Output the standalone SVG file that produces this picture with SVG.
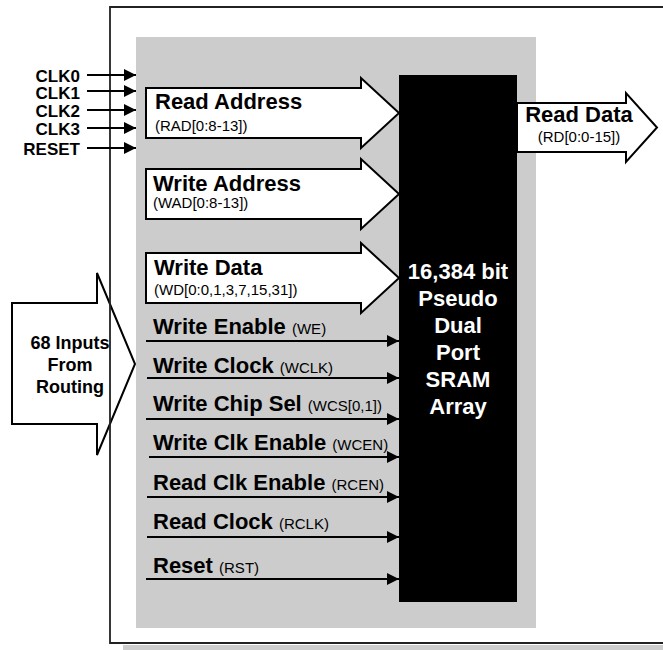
<svg xmlns="http://www.w3.org/2000/svg" width="663" height="650" viewBox="0 0 663 650">
<style>
.b{font-family:"Liberation Sans",Arial,sans-serif;font-weight:bold;font-size:22px;fill:#000}
.s{font-family:"Liberation Sans",Arial,sans-serif;font-weight:normal;font-size:15px;fill:#000}
.clk{font-family:"Liberation Sans",Arial,sans-serif;font-weight:bold;font-size:17px;fill:#000;text-anchor:end}
.w{font-family:"Liberation Sans",Arial,sans-serif;font-weight:bold;font-size:22px;fill:#fff;text-anchor:middle}
.arr{fill:#fff;stroke:#000;stroke-width:2;stroke-linejoin:miter}
.ln{stroke:#000;stroke-width:2;fill:none}
</style>
<defs>
<marker id="ah" markerUnits="userSpaceOnUse" markerWidth="13" markerHeight="13" refX="12" refY="6.5" orient="auto" viewBox="0 0 13 13">
<path d="M0,0.5 L12,6.5 L0,12.5 z" fill="#000"/>
</marker>
</defs>
<rect width="663" height="650" fill="#fff"/>
<rect x="123" y="645" width="540" height="5" fill="#ccc"/>
<rect id="panel" x="136" y="37" width="400" height="591" fill="#ccc"/>
<g id="inputs-from-routing">
<polygon class="arr" points="12,303 97,303 97,273 135,364 97,455 97,424 12,424"/>
<text class="b" style="font-size:18px" text-anchor="middle" x="70" y="349">68 Inputs</text>
<text class="b" style="font-size:18px" text-anchor="middle" x="70" y="371">From</text>
<text class="b" style="font-size:18px" text-anchor="middle" x="70" y="393">Routing</text>
</g>
<g id="frame">
<path d="M663,7 H110 V643 H663" fill="none" stroke="#222" stroke-width="1.8"/>
</g>
<g id="sram">
<rect x="399" y="75" width="118" height="527" fill="#000"/>
<text class="w" x="458" y="279">16,384 bit</text>
<text class="w" x="458" y="306">Pseudo</text>
<text class="w" x="458" y="333">Dual</text>
<text class="w" x="458" y="360">Port</text>
<text class="w" x="458" y="387">SRAM</text>
<text class="w" x="458" y="414">Array</text>
</g>
<g id="read-address">
<polygon class="arr" points="146,88 361,88 361,78 399,113 361,148 361,138 146,138"/>
<text class="b" x="155" y="109">Read Address</text>
<text class="s" x="155" y="131">(RAD[0:8-13])</text>
</g>
<g id="write-address">
<polygon class="arr" points="146,169 361,169 361,159 399,194 361,229 361,219 146,219"/>
<text class="b" x="153" y="191">Write Address</text>
<text class="s" x="153" y="208">(WAD[0:8-13])</text>
</g>
<g id="write-data">
<polygon class="arr" points="146,253 361,253 361,243 399,278 361,313 361,303 146,303"/>
<text class="b" x="154" y="275">Write Data</text>
<text class="s" x="154" y="295">(WD[0:0,1,3,7,15,31])</text>
</g>
<g id="read-data">
<polygon class="arr" points="517,103 626,103 626,93 657,127.5 626,162 626,152 517,152"/>
<text class="b" text-anchor="middle" x="579" y="122">Read Data</text>
<text class="s" text-anchor="middle" x="579" y="142">(RD[0:0-15])</text>
</g>
<g id="clock-labels">
<text class="clk" x="80" y="82">CLK0</text>
<text class="clk" x="80" y="99">CLK1</text>
<text class="clk" x="80" y="117">CLK2</text>
<text class="clk" x="80" y="135">CLK3</text>
<text class="clk" x="80" y="155">RESET</text>
</g>
<g id="signal-labels">
<text class="b" x="153" y="334">Write Enable <tspan class="s">(WE)</tspan></text>
<text class="b" x="153" y="373">Write Clock <tspan class="s">(WCLK)</tspan></text>
<text class="b" x="153" y="411">Write Chip Sel <tspan class="s">(WCS[0,1])</tspan></text>
<text class="b" x="153" y="450">Write Clk Enable <tspan class="s">(WCEN)</tspan></text>
<text class="b" x="153" y="490">Read Clk Enable <tspan class="s">(RCEN)</tspan></text>
<text class="b" x="153" y="529">Read Clock <tspan class="s">(RCLK)</tspan></text>
<text class="b" x="153" y="573">Reset <tspan class="s">(RST)</tspan></text>
</g>
<g id="connectors">
<line class="ln" x1="87" y1="75" x2="136" y2="75" marker-end="url(#ah)"/>
<line class="ln" x1="87" y1="91" x2="136" y2="91" marker-end="url(#ah)"/>
<line class="ln" x1="87" y1="110" x2="136" y2="110" marker-end="url(#ah)"/>
<line class="ln" x1="87" y1="128" x2="136" y2="128" marker-end="url(#ah)"/>
<line class="ln" x1="87" y1="148" x2="136" y2="148" marker-end="url(#ah)"/>
<line class="ln" x1="146" y1="341" x2="399" y2="341" marker-end="url(#ah)"/>
<line class="ln" x1="147" y1="378" x2="399" y2="378" marker-end="url(#ah)"/>
<line class="ln" x1="146" y1="419" x2="399" y2="419" marker-end="url(#ah)"/>
<line class="ln" x1="149" y1="457" x2="399" y2="457" marker-end="url(#ah)"/>
<line class="ln" x1="147" y1="497" x2="399" y2="497" marker-end="url(#ah)"/>
<line class="ln" x1="147" y1="537" x2="399" y2="537" marker-end="url(#ah)"/>
<line class="ln" x1="146" y1="579" x2="399" y2="579" marker-end="url(#ah)"/>
</g>
</svg>
